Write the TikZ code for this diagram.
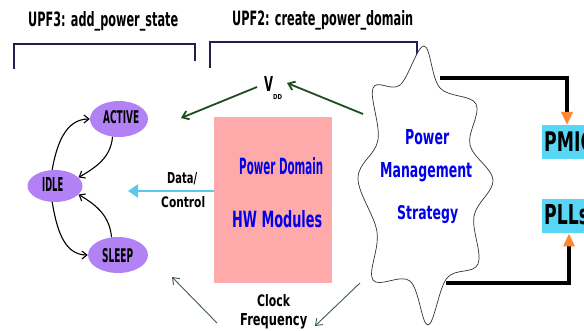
\documentclass[tikz,border=0pt]{standalone}
\usepackage{fontspec}
\setmainfont{DejaVu Sans}
\usetikzlibrary{arrows.meta,shapes.geometric}
\definecolor{statepurple}{RGB}{178,130,244}
\definecolor{hwpink}{RGB}{255,170,170}
\definecolor{boxcyan}{RGB}{88,214,245}
\definecolor{arrcyan}{RGB}{92,200,235}
\definecolor{dkgreen}{RGB}{30,77,30}
\definecolor{thgreen}{RGB}{60,94,60}
\definecolor{brk}{RGB}{42,27,74}
\definecolor{txtblue}{RGB}{0,0,235}
\definecolor{tiporange}{RGB}{255,135,50}
\newcommand{\rbx}[3]{\resizebox{#1}{#2}{\bfseries #3}}
\tikzset{
  txt/.style={inner sep=0pt, anchor=base west},
  state/.style={ellipse, fill=statepurple, minimum width=58pt, minimum height=36pt, inner sep=0pt},
  sarrow/.style={black, line width=1.1pt, -{Straight Barb[length=5pt,width=8pt]}},
  brack/.style={brk, line width=1.2pt},
  gthick/.style={dkgreen, line width=1.8pt, -{Straight Barb[length=6pt,width=9pt]}},
  gthin/.style={thgreen, line width=0.9pt, -{Straight Barb[length=6pt,width=9pt]}},
  ctrl/.style={black, line width=3.5pt, -{Triangle[length=13pt,width=11pt,fill=tiporange,color=tiporange]}},
  outbox/.style={fill=boxcyan, inner sep=0pt, minimum height=34pt, minimum width=60pt}
}
\begin{document}
\begin{tikzpicture}[x=1pt,y=-1pt]
\useasboundingbox (0,0) rectangle (584,331);
\clip (0,0) rectangle (584,331);
% titles and brackets
\node[txt] (t3) at (28,27) {\rbx{150pt}{15pt}{UPF3: add\_power\_state}};
\node[txt] (t2) at (232,26) {\rbx{181pt}{15pt}{UPF2: create\_power\_domain}};
\draw[brack] (14,69) -- (14,44) -- (195,44) -- (195,61);
\draw[brack] (210,68) -- (210,42) -- (417,42) -- (417,59);
% cloud
\draw[black!80, line width=0.7pt, fill=white] plot[smooth cycle, tension=0.6] coordinates {
 (424,46) (440,88) (476,104) (470,145) (493,180) (474,216) (478,264)
 (447,278) (428,325) (410,281) (373,280) (377,232) (358,178) (378,140)
 (373,88) (400,85)};
\node[txt, text=txtblue] (pw) at (405,145) {\rbx{44pt}{15pt}{Power}};
\node[txt, text=txtblue] (pm) at (380,178) {\rbx{92pt}{15pt}{Management}};
\node[txt, text=txtblue] (ps) at (397,220) {\rbx{61pt}{14pt}{Strategy}};
\coordinate (cloudtl) at (363,114);
\coordinate (cloudbl) at (360,283);
\coordinate (cloudtop) at (440,78);
\coordinate (cloudbot) at (446,283);
% HW box
\node[fill=hwpink, minimum width=118pt, minimum height=166pt, inner sep=0pt, anchor=north west] (hw) at (214,117) {};
\node[txt, text=txtblue] (pd) at (239,175) {\rbx{84pt}{17pt}{Power Domain}};
\node[txt, text=txtblue] (hwm) at (232,228) {\rbx{90pt}{17pt}{HW Modules}};
% states
\node[state] (act) at (119,119) {};
\node[state, minimum width=55pt, minimum height=32pt] (idle) at (55,186) {};
\node[state, minimum width=60pt] (slp) at (118,255) {};
\node[txt] (actt) at (103,124) {\rbx{36pt}{13pt}{ACTIVE}};
\node[txt] (idlet) at (42,192) {\rbx{21pt}{14pt}{IDLE}};
\node[txt] (slpt) at (102,262) {\rbx{31pt}{14pt}{SLEEP}};
\draw[sarrow] (idle.100) to[out=80, in=180] (act.west);
\draw[sarrow] (act.-110) to[out=-95, in=30] (idle.20);
\draw[sarrow] (slp.110) to[out=95, in=-30] (idle.-20);
\draw[sarrow] (idle.-100) to[out=-80, in=180] (slp.west);
% data/control
\coordinate (dcend) at (128,191);
\draw[arrcyan, line width=2.8pt, -{Triangle[length=10pt,width=13pt]}] (hw.west |- dcend) -- (dcend);
\node[txt] (dc1) at (167,184) {\rbx{30pt}{11pt}{Data/}};
\node[txt] (dc2) at (161,208) {\rbx{44pt}{11pt}{Control}};
% VDD
\node[txt] (vdd) at (264,92) {\rbx{9pt}{15pt}{V}};
\node[txt] (dd) at (273,100) {\rbx{9pt}{5pt}{DD}};
\coordinate (vddtip) at (287,83);
\coordinate (vddleft) at (257,87);
\coordinate (vddend) at (181,118);
\draw[gthick] (cloudtl) -- (vddtip);
\draw[gthick] (vddleft) -- (vddend);
% clock
\node[txt] (clk1) at (257,307) {\rbx{33pt}{12pt}{Clock}};
\node[txt] (clk2) at (240,325) {\rbx{67pt}{12pt}{Frequency}};
\coordinate (clkl) at (217,323);
\coordinate (clkend) at (172,277);
\coordinate (clkr) at (315,326);
\draw[gthin] (clkl) -- (clkend);
\draw[gthin] (cloudbl) -- (clkr);
% PMIC / PLLs
\node[outbox, anchor=north west] (pmic) at (542,125) {};
\node[outbox, anchor=north west] (plls) at (542,199) {};
\node[txt] (pmict) at (544,152) {\rbx{49pt}{20pt}{PMIC}};
\node[txt] (pllst) at (544,225) {\rbx{45pt}{20pt}{PLLs}};
\draw[ctrl] (cloudtop) -- (567,78) -- (pmic.north west -| 567,0);
\draw[ctrl] (cloudbot) -- (569,283) -- (plls.south west -| 569,0);
\end{tikzpicture}
\end{document}
